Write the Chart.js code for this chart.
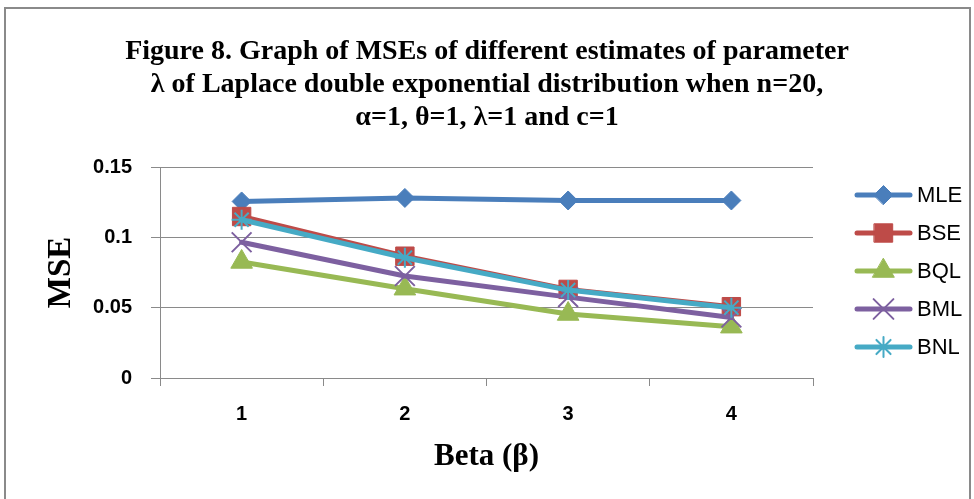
<!DOCTYPE html>
<html>
<head>
<meta charset="utf-8">
<script src="https://cdn.jsdelivr.net/npm/chart.js@4.4.0/dist/chart.umd.min.js"></script>
<style>
  body { margin: 0; background: #fff; }
  #wrap { position: relative; width: 974px; height: 499px; overflow: hidden; }
  #frame { position: absolute; left: 4px; top: 7px; width: 963px; height: 600px; border: 2px solid #8a8a8a; pointer-events: none; }
  canvas { position: absolute; left: 0; top: 0; }
</style>
</head>
<body>
<div id="wrap">
  <canvas id="chart" width="974" height="499"></canvas>
  <div id="frame"></div>
</div>
<script>
const betas = ["1", "2", "3", "4"];
const yTicks = ["0", "0.05", "0.1", "0.15"];

const mle = [0.1255, 0.1280, 0.1262, 0.1262];
const bse = [0.1148, 0.0866, 0.0630, 0.0507];
const bql = [0.0825, 0.0635, 0.0455, 0.0365];
const bml = [0.0965, 0.0725, 0.0575, 0.0430];
const bnl = [0.1125, 0.0855, 0.0625, 0.0500];

const series = [
  { label: "MLE", data: mle, color: "#4A7EBB", style: "rectRot", r: 9.5, bw: 1 },
  { label: "BSE", data: bse, color: "#BE4B48", style: "rect", r: 13, bw: 1 },
  { label: "BQL", data: bql, color: "#98B954", style: "triangle", r: 12.5, bw: 1 },
  { label: "BML", data: bml, color: "#7D60A0", style: "crossRot", r: 14, bw: 2 },
  { label: "BNL", data: bnl, color: "#46AAC5", style: "star", r: 10, bw: 2 }
];

// legend on the right: line + marker + name
const sideLegend = {
  id: "sideLegend",
  afterDraw(chart) {
    const ctx = chart.ctx;
    series.forEach(function(s, i) {
      const y = 195 + i * 38;
      ctx.save();
      ctx.strokeStyle = s.color;
      ctx.lineWidth = 5;
      ctx.lineCap = "round";
      ctx.beginPath();
      ctx.moveTo(857, y);
      ctx.lineTo(910, y);
      ctx.stroke();
      ctx.fillStyle = s.color;
      ctx.lineWidth = s.bw;
      Chart.helpers.drawPoint(ctx, { pointStyle: s.style, radius: s.r, rotation: 0, borderWidth: s.bw }, 883.5, y);
      ctx.fillStyle = "#000";
      ctx.font = "22px 'Liberation Sans', Arial, sans-serif";
      ctx.textBaseline = "middle";
      ctx.textAlign = "left";
      ctx.fillText(s.label, 917, y + 1);
      ctx.restore();
    });
  }
};

new Chart(document.getElementById("chart"), {
  type: "line",
  data: {
    labels: betas,
    datasets: series.map(function(s, i) {
      return {
        label: s.label,
        data: s.data,
        order: 5 - i,
        yAxisID: "y",
        borderColor: s.color,
        backgroundColor: s.color,
        borderWidth: 5,
        borderJoinStyle: "round",
        borderCapStyle: "round",
        tension: 0,
        pointStyle: s.style,
        pointRadius: s.r,
        pointHoverRadius: s.r,
        pointBorderWidth: s.bw,
        pointBackgroundColor: s.color,
        pointBorderColor: s.color,
        clip: false
      };
    })
  },
  options: {
    responsive: false,
    animation: false,
    layout: { padding: 0 },
    plugins: {
      legend: { display: false },
      tooltip: { enabled: false },
      title: {
        display: true,
        text: [
          "Figure 8. Graph of MSEs of different estimates of parameter",
          "\u03bb of Laplace double exponential distribution when n=20,",
          "\u03b1=1, \u03b8=1, \u03bb=1 and c=1"
        ],
        color: "#000",
        font: { family: "'Liberation Serif', 'Times New Roman', serif", size: 28, weight: "bold", lineHeight: 33 / 28 },
        padding: { top: 35, bottom: 33 }
      }
    },
    scales: {
      x: {
        offset: true,
        afterFit: function(scale) { scale.height = 121; },
        grid: { offset: true, drawOnChartArea: false, tickLength: 8, color: "#8a8a8a" },
        border: { color: "#8a8a8a" },
        ticks: {
          color: "#000",
          padding: 16,
          font: { family: "'Liberation Sans', Arial, sans-serif", size: 20, weight: "bold" }
        },
        title: {
          display: true,
          text: "Beta (\u03b2)",
          color: "#000",
          font: { family: "'Liberation Serif', 'Times New Roman', serif", size: 31, weight: "bold" },
          padding: { top: 0, bottom: 23 }
        }
      },
      y: {
        min: 0,
        max: 0.15,
        afterFit: function(scale) { scale.width = 160; },
        grid: { color: "#8a8a8a", tickLength: 9 },
        border: { color: "#8a8a8a" },
        ticks: {
          stepSize: 0.05,
          color: "#000",
          padding: 19,
          font: { family: "'Liberation Sans', Arial, sans-serif", size: 20, weight: "bold" },
          callback: function(v, i) { return yTicks[i]; }
        },
        title: {
          display: true,
          text: "MSE",
          color: "#000",
          font: { family: "'Liberation Serif', 'Times New Roman', serif", size: 33, weight: "bold" },
          padding: { top: 42, bottom: 0 }
        }
      },
      // empty right-hand box that reserves room for the legend
      side: {
        position: "right",
        min: 0,
        max: 0.15,
        afterFit: function(scale) { scale.width = 161; },
        grid: { drawOnChartArea: false, drawTicks: false },
        border: { display: false },
        ticks: { display: false }
      }
    }
  },
  plugins: [sideLegend]
});
</script>
</body>
</html>
